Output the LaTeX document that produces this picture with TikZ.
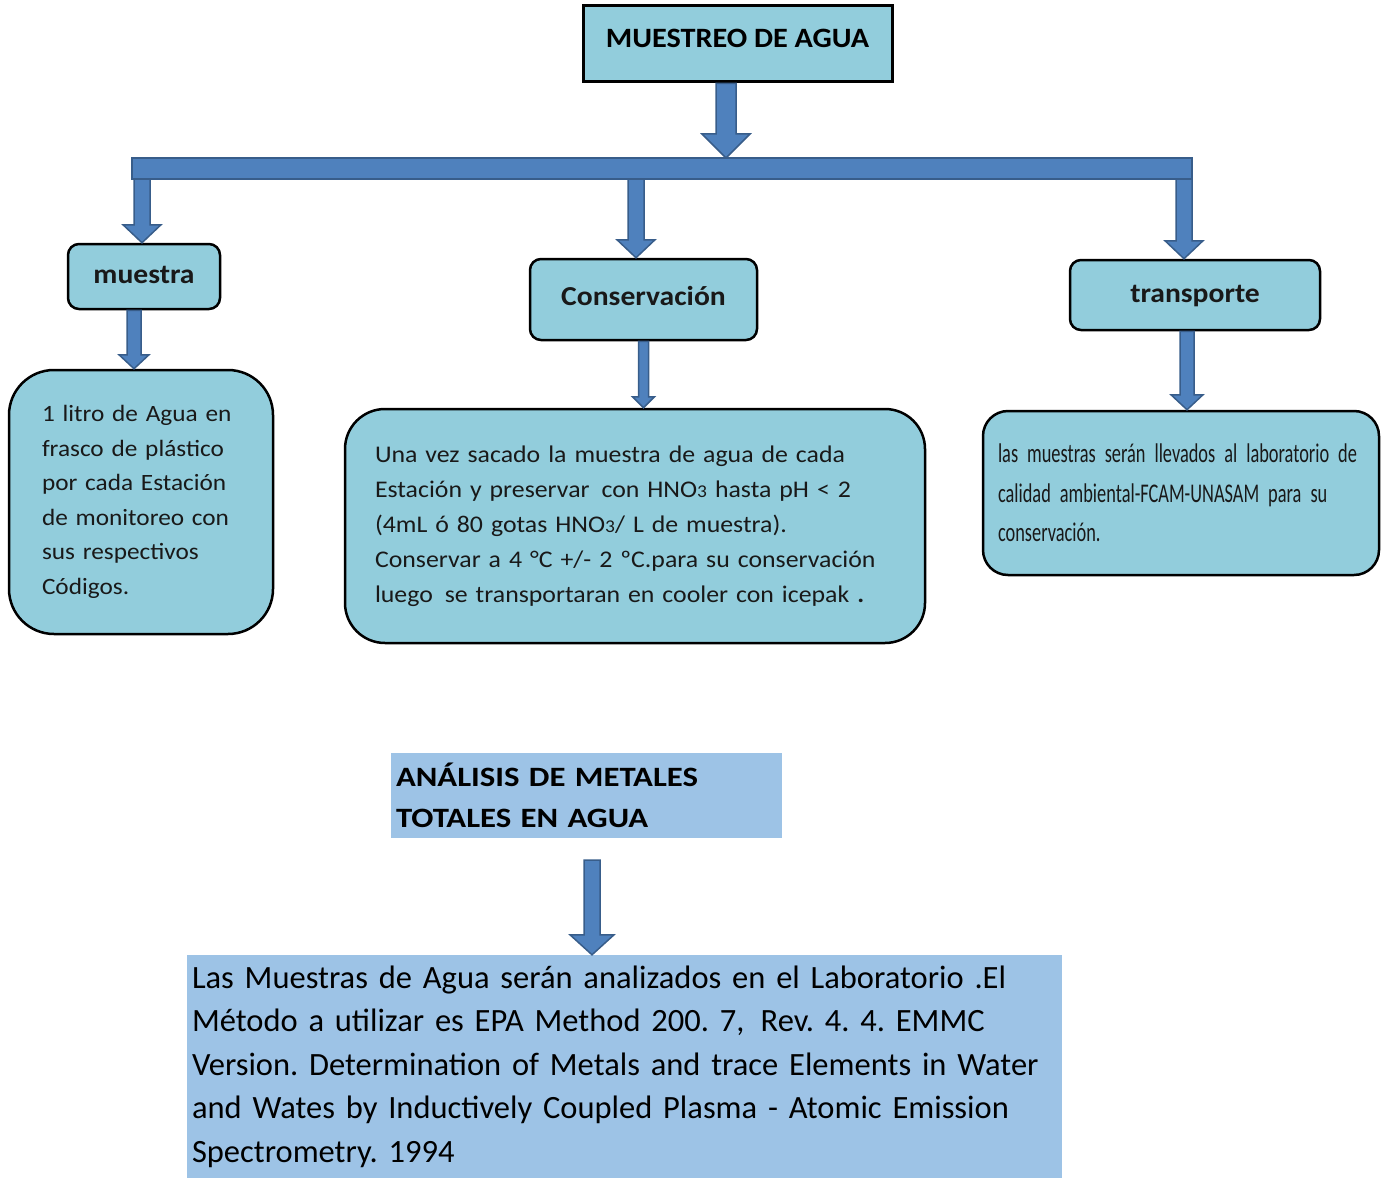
\documentclass[tikz,border=0pt]{standalone}
\usepackage{fontspec}
\setmainfont{Carlito}[FakeStretch=1.08]
\newfontfamily\narrowfont[FakeStretch=0.68, WordSpace=0.75]{Carlito}
\newfontfamily\widefont[FakeStretch=1.17, WordSpace=0.7]{Carlito}
\newfontfamily\tightfont{Carlito}
\newcommand{\tightspace}{\spaceskip=0.13em plus 0.02em minus 0.02em\relax}
\usetikzlibrary{positioning,calc}

\definecolor{aqua}{HTML}{92CDDC}
\definecolor{paleblue}{HTML}{9DC3E6}
\definecolor{arrowblue}{HTML}{4F81BD}
\definecolor{arrowedge}{HTML}{385D8A}

\tikzset{
  headbox/.style={draw=black, line width=2.5pt, fill=aqua, rounded corners=11pt, text=black!90,
    font=\bfseries\fontsize{27.4}{30}\selectfont, text height=19pt, text depth=5pt},
  textbox/.style={draw=black, line width=2.5pt, fill=aqua, align=left, inner ysep=0pt, text=black!90},
  labbox/.style={fill=paleblue, align=left, inner ysep=0pt, text=black},
  fatarrow/.style={fill=arrowblue, draw=arrowedge, line width=1.5pt, line join=miter},
}

% block arrow: from, to, half shaft, half head, head length
\newcommand{\fatarrow}[5]{%
  \filldraw[fatarrow] let \p1=(#1), \p2=(#2) in
    (\x1-#3,\y1) -- (\x1-#3,\y2+#5) -- (\x1-#4,\y2+#5) -- (\x1,\y2)
    -- (\x1+#4,\y2+#5) -- (\x1+#3,\y2+#5) -- (\x1+#3,\y1) -- cycle;}

\begin{document}
\frenchspacing
\begin{tikzpicture}[x=1pt,y=-1pt]
\useasboundingbox (0,0) rectangle (1381,1180);

\node[draw=black, line width=3pt, fill=aqua, minimum width=309pt, minimum height=76pt,
  font=\bfseries\fontsize{28}{30}\selectfont, text height=20pt, text depth=12pt] (muestreo) at (737.5,44) {MUESTREO DE AGUA};

\node[headbox, minimum width=152pt, minimum height=65pt] (muestra) at (144,276.5) {muestra};
\node[headbox, minimum width=227pt, minimum height=81pt, text depth=8pt] (conserv) at (643.5,299.5) {Conservación};
\node[headbox, minimum width=250pt, minimum height=70pt] (transp) at (1195,295) {transporte};

\node[textbox, rounded corners=45pt, minimum height=264pt, text width=198pt, inner xsep=33pt,
  font=\fontsize{23.4}{34.5}\selectfont] (litro) at (141,502)
  {1 litro de Agua en\\frasco de plástico\\por cada Estación\\de monitoreo con\\sus respectivos\\Códigos.};
\node[textbox, rounded corners=40pt, minimum height=234pt, text width=520pt, inner xsep=30pt,
  font=\fontsize{23.9}{35}\selectfont] (preserv) at (635,526)
  {Una vez sacado la muestra de agua de cada\\
   Estación y preservar\, con HNO{\fontsize{18}{18}\selectfont 3} hasta pH < 2\\
   (4mL ó 80 gotas HNO{\fontsize{18}{18}\selectfont 3}/ L de muestra).\\
   Conservar a 4 °C +/- 2 ºC.para su conservación\\
   luego\, se transportaran en cooler con icepak {\bfseries.}};
\node[textbox, rounded corners=25pt, minimum height=164pt, text width=366pt, inner xsep=15pt,
  font=\narrowfont\fontsize{27}{39.5}\selectfont] (llevar) at (1181,493)
  {las muestras serán llevados al laboratorio de\\calidad ambiental-FCAM-UNASAM para su\\conservación.};

\node[labbox, minimum height=85pt, text width=381pt, inner xsep=5pt,
  font=\widefont\bfseries\fontsize{28}{41}\selectfont] (analisis) at (586.5,795.5)
  {ANÁLISIS DE METALES\\TOTALES EN AGUA};
\node[labbox, minimum height=223pt, text width=865pt, inner xsep=5pt,
  font=\tightfont\fontsize{32.5}{43.5}\selectfont\tightspace] (metodo) at (624.5,1066.5)
  {Las Muestras de Agua serán analizados en el Laboratorio .El\\
   Método a utilizar es EPA Method 200. 7,\, Rev. 4. 4. EMMC\\
   Version. Determination of Metals and trace Elements in Water\\
   and Wates by Inductively Coupled Plasma - Atomic Emission\\
   Spectrometry. 1994};

% arrows
\coordinate (bartop) at (726,158);
\coordinate (barL) at (132,158);
\coordinate (barR) at (1192,179);
\coordinate (b1) at (142,176);
\coordinate (b2) at (636,176);
\coordinate (b3) at (1184,176);

\fatarrow{$(muestreo.south)+(-11.5,0)$}{bartop}{10pt}{24pt}{24pt}
\fatarrow{b1}{muestra.north}{8pt}{19pt}{18pt}
\fatarrow{b2}{conserv.north}{8pt}{19pt}{18pt}
\fatarrow{b3}{transp.north}{8pt}{19pt}{18pt}
\filldraw[fatarrow] (barL) rectangle (barR);

\fatarrow{$(muestra.south)+(-10,0)$}{litro.north}{7pt}{15pt}{14pt}
\fatarrow{conserv.south}{preserv.north}{5pt}{11pt}{11pt}
\fatarrow{$(transp.south)+(-8,0)$}{llevar.north}{7pt}{16pt}{15pt}
\fatarrow{$(analisis.south)+(5.5,22)$}{metodo.north}{8pt}{22pt}{20pt}
\end{tikzpicture}
\end{document}
